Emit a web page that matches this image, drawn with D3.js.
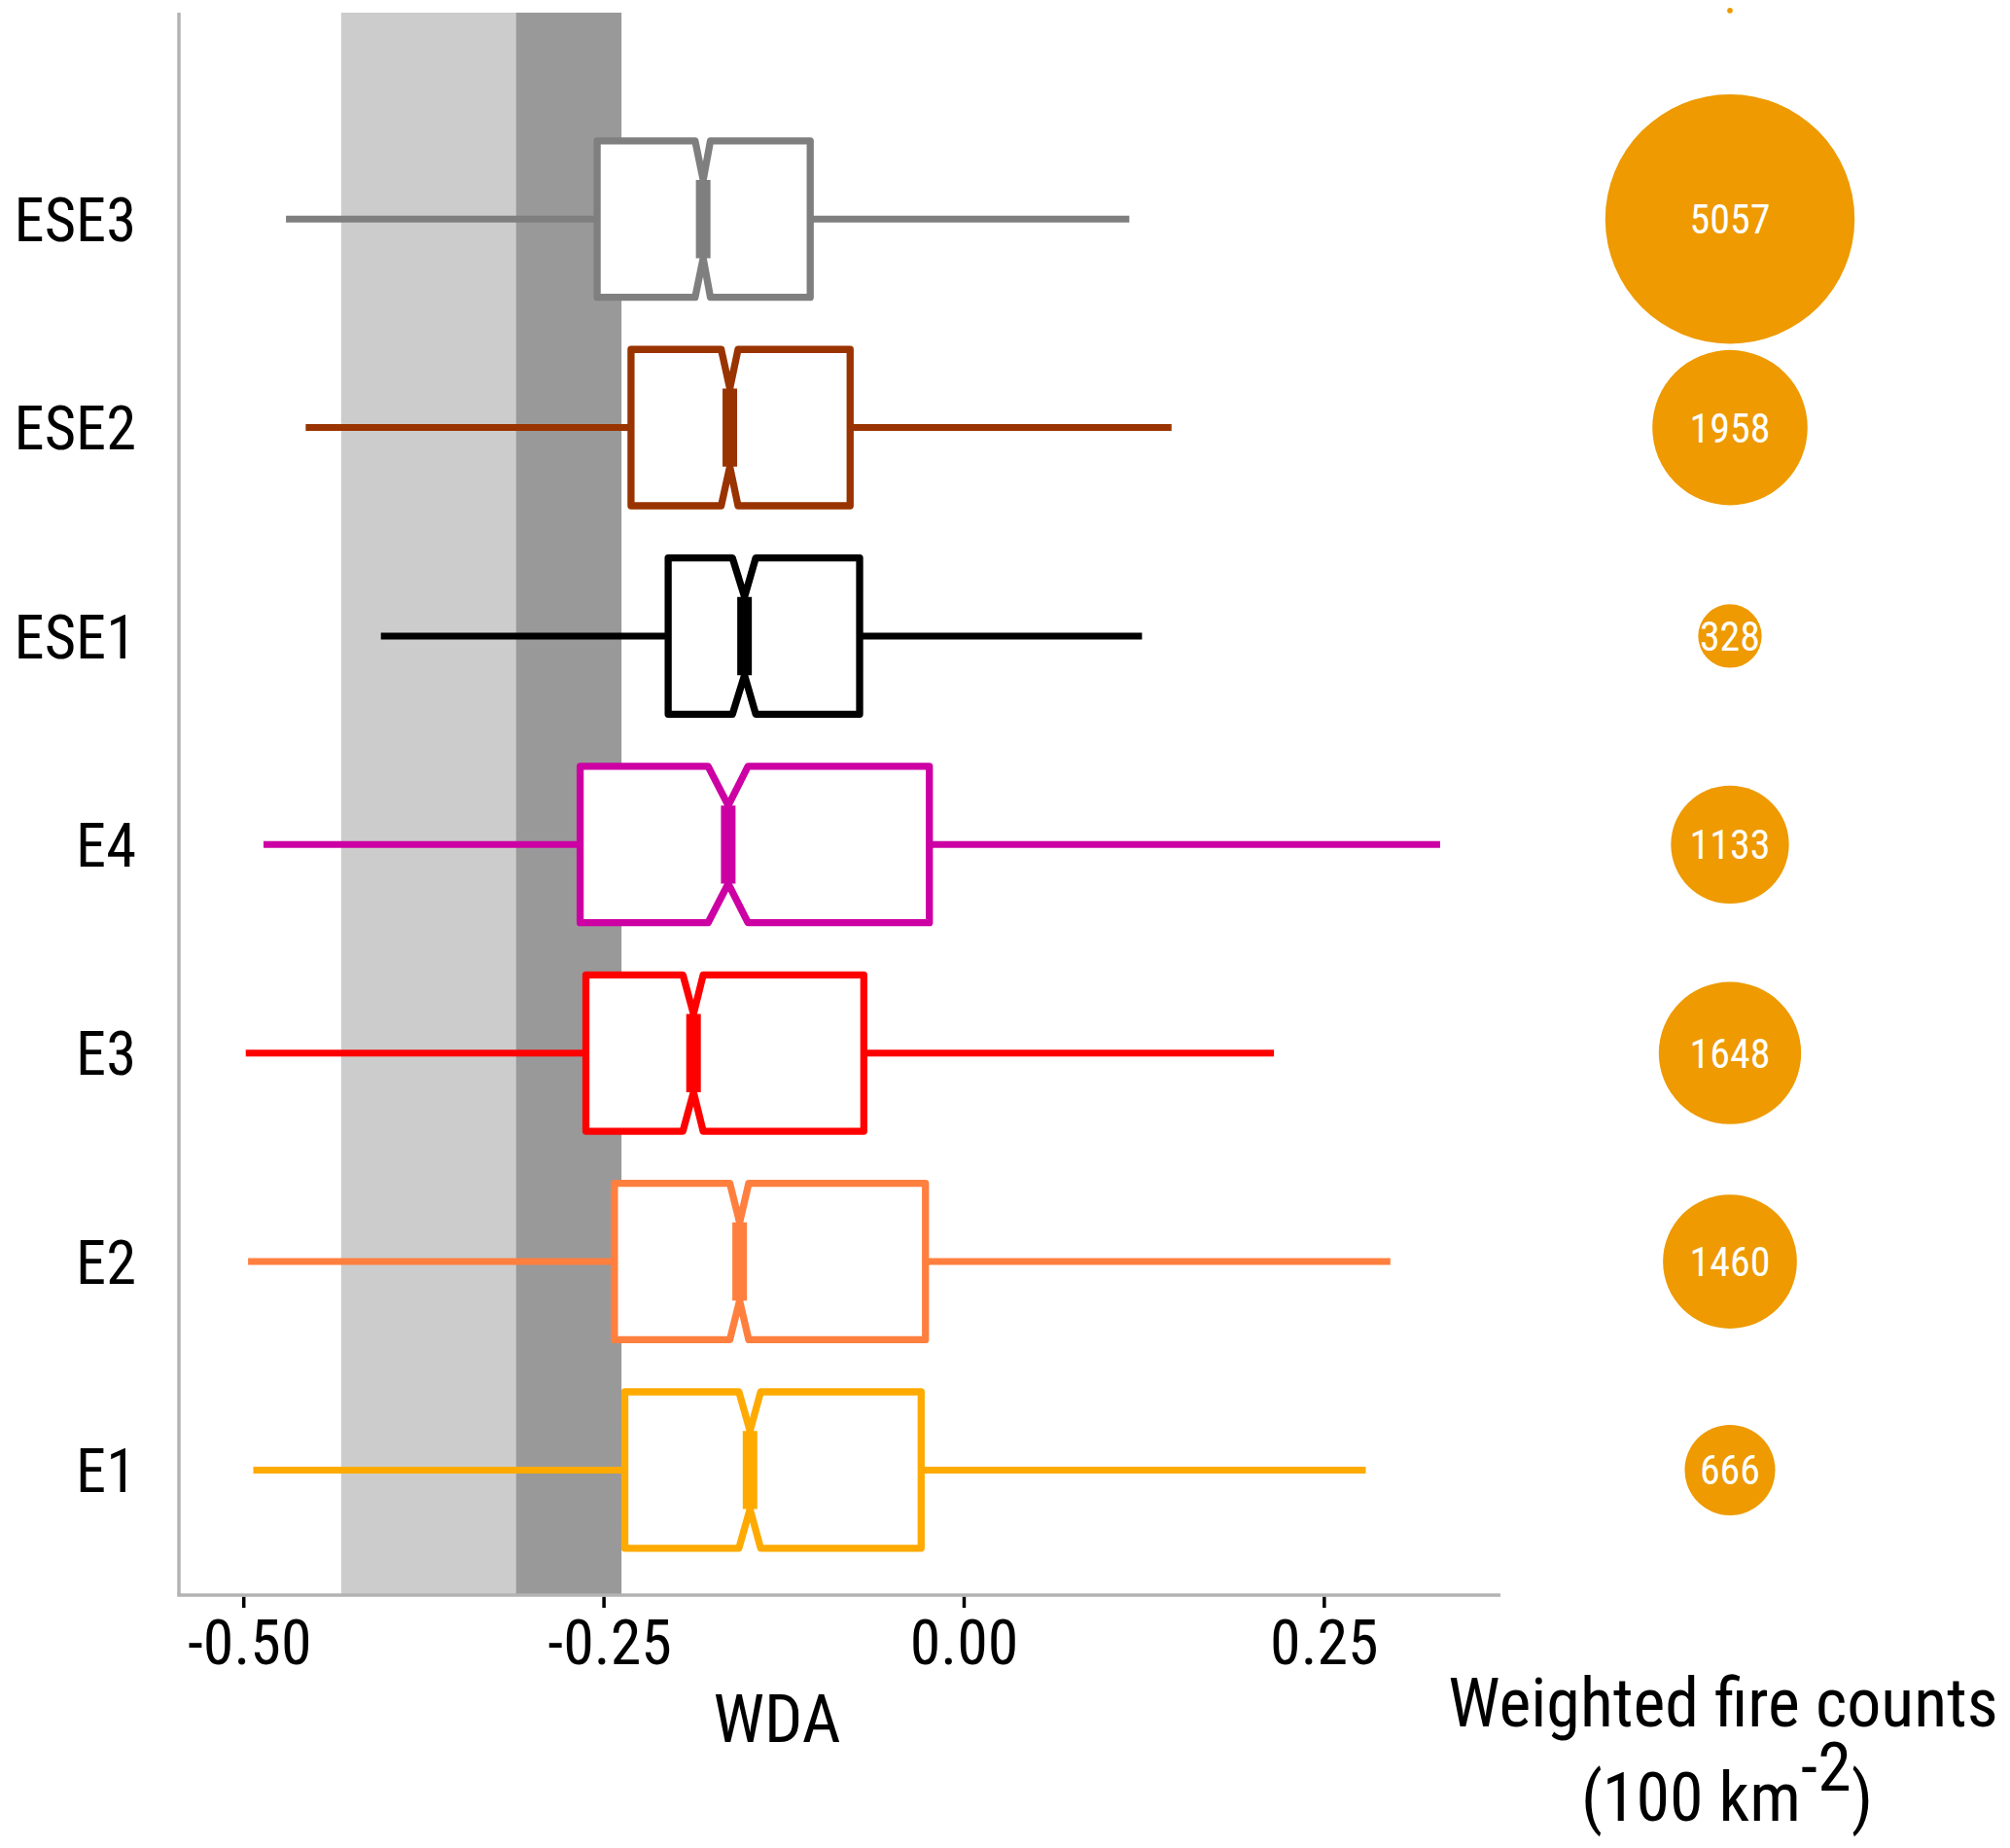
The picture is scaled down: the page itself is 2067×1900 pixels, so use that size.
<!DOCTYPE html>
<html>
<head>
<meta charset="utf-8">
<script src="https://cdn.jsdelivr.net/npm/d3@7"></script>
<style>
  body { margin: 0; background: #fff; }
  text { font-family: "Roboto Condensed", Roboto, sans-serif; }
</style>
</head>
<body>
<div id="chart"></div>
<script>
// categories from bottom to top
const categories = ["E1", "E2", "E3", "E4", "ESE1", "ESE2", "ESE3"];
const whiskerLow = [-0.4931, -0.4967, -0.4983, -0.4860, -0.4045, -0.4567, -0.4704];
const q1 = [-0.2352, -0.2424, -0.2622, -0.2662, -0.2051, -0.2309, -0.2544];
const medians = [-0.1483, -0.1555, -0.1875, -0.1634, -0.1521, -0.1623, -0.1808];
const q3 = [-0.0295, -0.0265, -0.0693, -0.0238, -0.0722, -0.0788, -0.1065];
const whiskerHigh = [0.2791, 0.2962, 0.2154, 0.3307, 0.1238, 0.1443, 0.1150];
const notchLow = [-0.1560, -0.1623, -0.1949, -0.1774, -0.1605, -0.1683, -0.1864];
const notchHigh = [-0.1409, -0.1492, -0.1808, -0.1497, -0.1443, -0.1566, -0.1758];

// weighted fire counts, plus the tiny point in the empty top row
const fireCategories = ["E1", "E2", "E3", "E4", "ESE1", "ESE2", "ESE3", ""];
const fireCounts = [666, 1460, 1648, 1133, 328, 1958, 5057, 2.4];

// shaded reference ranges of WDA
const bandFrom = [-0.4321, -0.3108];
const bandTo = [-0.3108, -0.2375];

const xTicks = [-0.5, -0.25, 0, 0.25];

const palette = {
    E1: "#FFAA00",
    E2: "#FF7F3F",
    E3: "#FF0000",
    E4: "#CC00A3",
    ESE1: "#000000",
    ESE2: "#993300",
    ESE3: "#7F7F7F",
};
const bandColors = ["#CCCCCC", "#999999"];

const W = 2067, H = 1900;
const plotLeft = 184, plotRight = 1543, plotTop = 13, plotBottom = 1640;
const bubbleX = 1779;

// is Roboto Condensed really there? if not squeeze Roboto
const ctx = document.createElement("canvas").getContext("2d");
ctx.font = "64px 'Roboto Condensed', monospace";
const wCond = ctx.measureText("ESE3 0.25").width;
ctx.font = "64px monospace";
const wMono = ctx.measureText("ESE3 0.25").width;
const squeezeRatio = Math.abs(wCond - wMono) < 0.5 ? 0.88 : 1;

function squeeze(sel) {
    if (squeezeRatio === 1) return;
    sel.each(function () {
        const t = d3.select(this);
        const x = +t.attr("x") || 0;
        t.attr("x", x / squeezeRatio)
            .attr("transform", `scale(${squeezeRatio},1)`);
    });
}

const svg = d3.select("#chart").append("svg")
    .attr("width", W)
    .attr("height", H)
    .attr("viewBox", [0, 0, W, H]);

const x = d3.scaleLinear()
    .domain([-0.5447, 0.3726])
    .range([plotLeft, plotRight]);

const y = d3.scalePoint()
    .domain(fireCategories)
    .range([1511.4, 10.9]);

const boxH = y.step() * 0.75;

const rows = categories.map((c, i) => ({
    cat: c,
    lo: whiskerLow[i],
    q1: q1[i],
    med: medians[i],
    q3: q3[i],
    hi: whiskerHigh[i],
    nlo: notchLow[i],
    nhi: notchHigh[i],
}));

//bandes grises
svg.append("g")
    .selectAll("rect")
    .data(bandFrom.map((f, i) => ({ from: f, to: bandTo[i], i })))
    .join("rect")
    .attr("x", (d) => x(d.from))
    .attr("width", (d) => x(d.to) - x(d.from))
    .attr("y", plotTop)
    .attr("height", plotBottom - plotTop)
    .attr("fill", (d) => bandColors[d.i]);

// axes lines
svg.append("line")
    .attr("x1", plotLeft).attr("x2", plotLeft)
    .attr("y1", plotTop).attr("y2", plotBottom)
    .attr("stroke", "#B3B3B3")
    .attr("stroke-width", 3.5);

const xAxis = svg.append("g")
    .attr("transform", `translate(0,${plotBottom})`)
    .call(d3.axisBottom(x)
        .tickValues(xTicks)
        .tickSize(13)
        .tickFormat((d) => d.toFixed(2)));
xAxis.select(".domain").remove();
xAxis.selectAll(".tick line")
    .attr("stroke", "#000")
    .attr("stroke-width", 3.5)
    .attr("y1", 1.5);
xAxis.selectAll(".tick text")
    .attr("x", (d) => (d < 0 ? 6 : 0))
    .attr("y", 71)
    .attr("dy", 0)
    .attr("fill", "#000")
    .attr("font-size", 64)
    .attr("font-family", null);
squeeze(xAxis.selectAll(".tick text"));

svg.append("line")
    .attr("x1", plotLeft - 1.75).attr("x2", plotRight)
    .attr("y1", plotBottom).attr("y2", plotBottom)
    .attr("stroke", "#B3B3B3")
    .attr("stroke-width", 3.5);

const yAxis = svg.append("g")
    .attr("transform", `translate(${plotLeft},0)`)
    .call(d3.axisLeft(y)
        .tickValues(categories)
        .tickSize(0));
yAxis.select(".domain").remove();
yAxis.selectAll(".tick text")
    .attr("x", -44)
    .attr("dy", "0.355em")
    .attr("fill", "#000")
    .attr("font-size", 62.5)
    .attr("font-family", null);
squeeze(yAxis.selectAll(".tick text"));

// boxplots
const boxes = svg.append("g")
    .selectAll("g")
    .data(rows)
    .join("g")
    .attr("stroke", (d) => palette[d.cat])
    .attr("stroke-linejoin", "round");

boxes.append("line")
    .attr("x1", (d) => x(d.lo))
    .attr("x2", (d) => x(d.q1))
    .attr("y1", (d) => y(d.cat))
    .attr("y2", (d) => y(d.cat))
    .attr("stroke-width", 7);

boxes.append("line")
    .attr("x1", (d) => x(d.q3))
    .attr("x2", (d) => x(d.hi))
    .attr("y1", (d) => y(d.cat))
    .attr("y2", (d) => y(d.cat))
    .attr("stroke-width", 7);

const notchPath = (d) => {
    const yc = y(d.cat);
    const top = yc - boxH / 2, bot = yc + boxH / 2;
    const pts = [
        [x(d.q1), top],
        [x(d.nlo), top],
        [x(d.med), yc - boxH / 4],
        [x(d.nhi), top],
        [x(d.q3), top],
        [x(d.q3), bot],
        [x(d.nhi), bot],
        [x(d.med), yc + boxH / 4],
        [x(d.nlo), bot],
        [x(d.q1), bot],
    ];
    return "M" + pts.map((p) => p.join(",")).join("L") + "Z";
};

boxes.append("path")
    .attr("d", notchPath)
    .attr("fill", "#fff")
    .attr("stroke-width", 7.3);

boxes.append("line")
    .attr("x1", (d) => x(d.med))
    .attr("x2", (d) => x(d.med))
    .attr("y1", (d) => y(d.cat) - boxH / 4)
    .attr("y2", (d) => y(d.cat) + boxH / 4)
    .attr("stroke-width", 15);

// bulles
const r = d3.scaleSqrt()
    .domain([0, 5057])
    .range([0, 128.2]);

const bubbles = fireCategories.map((c, i) => ({ cat: c, value: fireCounts[i] }));

svg.append("g")
    .selectAll("circle")
    .data(bubbles)
    .join("circle")
    .attr("cx", bubbleX)
    .attr("cy", (d) => y(d.cat))
    .attr("r", (d) => r(d.value))
    .attr("fill", "#EE9A00");

const bubbleLabels = svg.append("g")
    .selectAll("text")
    .data(bubbles.filter((d) => d.cat !== ""))
    .join("text")
    .attr("x", bubbleX)
    .attr("y", (d) => y(d.cat))
    .attr("dy", "0.355em")
    .attr("text-anchor", "middle")
    .attr("font-size", 42)
    .attr("fill", "#fff")
    .text((d) => d.value);
squeeze(bubbleLabels);

// titres
const xTitle = svg.append("text")
    .attr("x", 799)
    .attr("y", 1791)
    .attr("text-anchor", "middle")
    .attr("font-size", 69)
    .attr("fill", "#000")
    .text("WDA");
squeeze(xTitle);

const sizeTitle = svg.append("text")
    .attr("x", 1772)
    .attr("y", 1775)
    .attr("text-anchor", "middle")
    .attr("font-size", 70)
    .attr("fill", "#000")
    .text("Weighted fire counts");
squeeze(sizeTitle);

const unitTitle = svg.append("text")
    .attr("x", 1776)
    .attr("y", 1872)
    .attr("text-anchor", "middle")
    .attr("font-size", 70)
    .attr("fill", "#000");
unitTitle.append("tspan").text("(100 km");
unitTitle.append("tspan").attr("dy", -31).text("-2");
unitTitle.append("tspan").attr("dy", 31).text(")");
squeeze(unitTitle);
</script>
</body>
</html>
